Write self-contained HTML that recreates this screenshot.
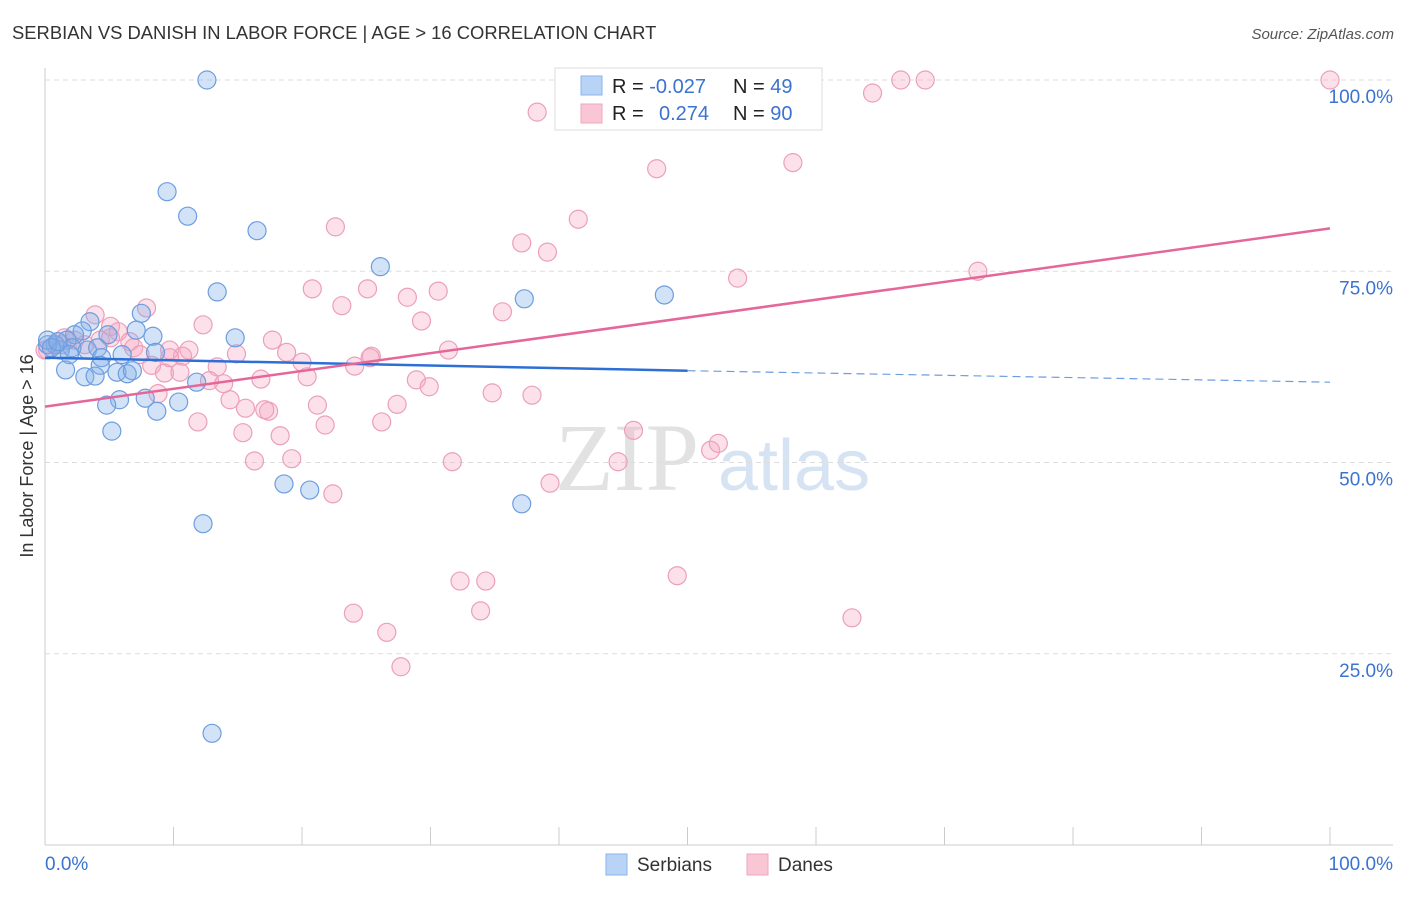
<!DOCTYPE html>
<html><head><meta charset="utf-8"><style>
body{margin:0;background:#fff;font-family:"Liberation Sans",sans-serif}
</style></head><body>
<svg id="c" width="1406" height="892" xmlns="http://www.w3.org/2000/svg">
<text x="12" y="39" font-size="18.4" fill="#333">SERBIAN VS DANISH IN LABOR FORCE | AGE &gt; 16 CORRELATION CHART</text>
<text x="1394" y="39" font-size="15" fill="#555" font-style="italic" text-anchor="end">Source: ZipAtlas.com</text>
<text transform="translate(33,456) rotate(-90)" font-size="18" fill="#333" text-anchor="middle">In Labor Force | Age &gt; 16</text>
<g><text x="555" y="490" font-size="96" font-family="Liberation Serif,serif" fill="#e2e2e2">ZIP</text><text x="718" y="490" font-size="72" fill="#d6e3f3">atlas</text></g>
<g id="grid"></g><g id="pts"></g><g id="lines"></g>
<g>
<rect x="555" y="68" width="267" height="62" fill="#fff" stroke="#ddd"/>
<rect x="581" y="76" width="21" height="19" fill="#b8d3f5" stroke="#8ab4ea"/>
<rect x="581" y="104" width="21" height="19" fill="#f9c6d6" stroke="#f0a5bf"/>
<text x="612" y="93" font-size="20" fill="#222">R = <tspan fill="#3b73d0">-0.027</tspan><tspan x="733">N = </tspan><tspan fill="#3b73d0">49</tspan></text>
<text x="612" y="120" font-size="20" fill="#222">R = <tspan x="659" fill="#3b73d0">0.274</tspan><tspan x="733">N = </tspan><tspan fill="#3b73d0">90</tspan></text>
</g>
<g>
<rect x="606" y="854" width="21" height="21" fill="#b8d3f5" stroke="#8ab4ea"/>
<text x="637" y="871" font-size="19" fill="#333">Serbians</text>
<rect x="747" y="854" width="21" height="21" fill="#f9c6d6" stroke="#f0a5bf"/>
<text x="778" y="871" font-size="19" fill="#333">Danes</text>
</g>
</svg>
<script>
const blueX=[12.6,9.5,11.1,16.5,26.1,13.4,37.3,48.2,7.5,14.8,3.5,7.1,8.4,2.9,2.3,4.9,1.7,0.8,1.2,0.2,3.3,2.1,4.1,6.0,8.6,4.4,1.9,1.6,4.3,5.6,6.4,6.8,3.1,3.9,11.8,10.4,7.8,5.8,4.8,8.7,5.2,18.6,20.6,37.1,12.3,13.0,0.2,0.5,1.0];
const blueY=[100,85.4,82.2,80.3,75.6,72.3,71.4,71.9,69.5,66.3,68.4,67.3,66.5,67.2,66.7,66.7,66.0,65.4,64.7,65.4,64.7,65.0,65.0,64.1,64.4,63.7,64.1,62.1,62.7,61.8,61.6,62.0,61.2,61.3,60.5,57.9,58.4,58.2,57.5,56.7,54.1,47.2,46.4,44.6,42.0,14.6,66.0,65.0,65.8];
const pinkX=[100,66.6,68.5,64.4,38.3,47.6,58.2,41.5,22.6,37.1,39.1,53.9,72.6,20.8,25.1,30.6,28.2,23.1,35.6,7.9,3.9,29.3,12.3,5.1,5.7,17.7,1.5,2.3,6.6,4.3,0.8,0.2,6.9,9.7,11.2,14.9,10.7,18.8,31.4,25.4,25.3,20.0,8.3,13.4,24.1,9.3,10.5,12.8,13.9,16.8,20.4,28.9,29.9,34.8,37.9,8.8,14.4,15.6,17.4,21.2,27.4,11.9,21.8,26.2,15.4,18.3,45.8,19.2,16.3,31.7,44.6,51.8,52.4,39.3,22.4,32.3,34.3,49.2,24.0,62.8,33.9,26.6,27.7,0,1.3,3.1,7.4,5.1,9.7,17.1];
const pinkY=[100,100,100,98.3,95.8,88.4,89.2,81.8,80.8,78.7,77.5,74.1,75.0,72.7,72.7,72.4,71.6,70.5,69.7,70.2,69.3,68.5,68.0,67.8,67.1,66.0,66.3,66.0,65.8,66.0,65.4,64.7,65.0,64.7,64.7,64.2,63.9,64.4,64.7,63.9,63.7,63.1,62.7,62.5,62.6,61.7,61.8,60.7,60.3,60.9,61.2,60.8,59.9,59.1,58.8,59.0,58.2,57.1,56.7,57.5,57.6,55.3,54.9,55.3,53.9,53.5,54.2,50.5,50.2,50.1,50.1,51.6,52.5,47.3,45.9,34.5,34.5,35.2,30.3,29.7,30.6,27.8,23.3,64.7,65.4,65.4,64.1,66.3,63.7,56.9];
const yTicks=[100,75,50,25];
const yTickLabels=["100.0%","75.0%","50.0%","25.0%"];
const xTickLabels=["0.0%","100.0%"];
const blueTrend=[63.7,62.0,60.5];
const pinkTrend=[57.3,80.6];
const NS="http://www.w3.org/2000/svg";
const sx=v=>45+v*12.85, sy=v=>845-v*7.65;
function mk(tag,attrs,parent){const e=document.createElementNS(NS,tag);for(const k in attrs)e.setAttribute(k,attrs[k]);parent.appendChild(e);return e;}
const grid=document.getElementById('grid');
yTicks.forEach((t,i)=>{
 const l=mk('line',{x1:45,x2:1393,y1:sy(t),y2:sy(t),stroke:'#ddd','stroke-dasharray':'5,4'},grid);
 
 
 const tx=mk('text',{x:1393,y:sy(t)+23,'font-size':19,fill:'#3b73d0','text-anchor':'end'},grid);
 tx.textContent=yTickLabels[i];
 
 
});
const ax=mk('line',{x1:45,x2:1393,y1:845,y2:845,stroke:'#ccc'},grid);


const ay=mk('line',{x1:45,x2:45,y1:68,y2:845,stroke:'#ccc'},grid);


for(let i=1;i<=10;i++){const t=mk('line',{x1:sx(i*10),x2:sx(i*10),y1:827,y2:845,stroke:'#ccc'},grid);
 
 }
[[0,'start',45],[1,'end',1393]].forEach(([i,a,x])=>{const t=mk('text',{x:x,y:870,'font-size':19,fill:'#3b73d0','text-anchor':a},grid);t.textContent=xTickLabels[i];
 
 });
const pts=document.getElementById('pts');
pinkX.forEach((x,i)=>{const c=mk('circle',{cx:sx(x),cy:sy(pinkY[i]),r:9,fill:'rgba(246,168,195,0.35)',stroke:'#ec9fba','stroke-width':1.2},pts);
 
 });
blueX.forEach((x,i)=>{const c=mk('circle',{cx:sx(x),cy:sy(blueY[i]),r:9,fill:'rgba(130,175,232,0.35)',stroke:'#6d9de0','stroke-width':1.2},pts);
 
 });
const lines=document.getElementById('lines');
const b1=mk('line',{x1:sx(0),y1:sy(blueTrend[0]),x2:sx(50),y2:sy(blueTrend[1]),stroke:'#2e6fd6','stroke-width':2.5},lines);


const b2=mk('line',{x1:sx(50),y1:sy(blueTrend[1]),x2:sx(100),y2:sy(blueTrend[2]),stroke:'#6d9de0','stroke-width':1.2,'stroke-dasharray':'8,5'},lines);


const p1=mk('line',{x1:sx(0),y1:sy(pinkTrend[0]),x2:sx(100),y2:sy(pinkTrend[1]),stroke:'#e5679a','stroke-width':2.5},lines);


</script>
</body></html>
